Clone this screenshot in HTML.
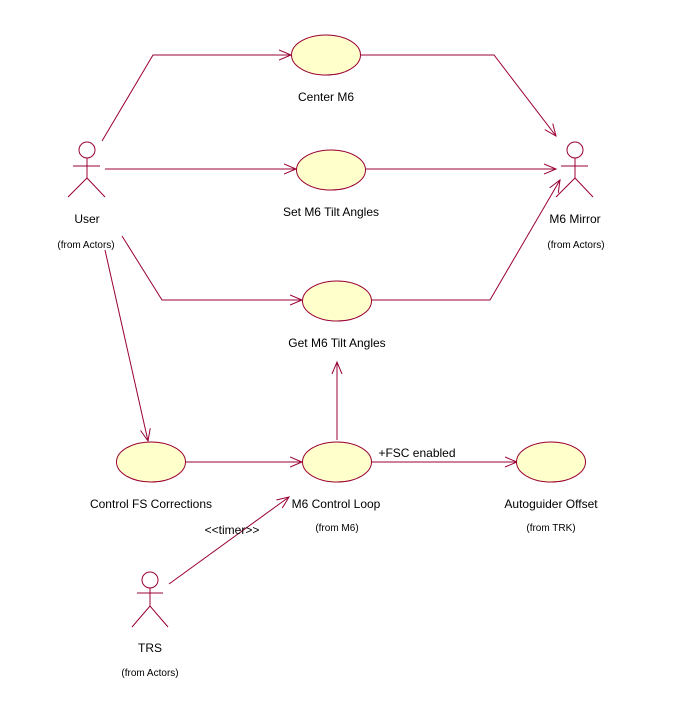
<!DOCTYPE html>
<html><head><style>
html,body{margin:0;padding:0;background:#fff;}
svg text{font-family:"Liberation Sans",sans-serif;fill:#000;}
</style></head><body>
<svg width="686" height="719" viewBox="0 0 686 719" xmlns="http://www.w3.org/2000/svg">
<defs>
<marker id="a" markerWidth="14" markerHeight="12" refX="12" refY="6" orient="auto" markerUnits="userSpaceOnUse">
<path d="M0,1 L12,6 L0,11" fill="none" stroke="#990033" stroke-width="1"/>
</marker>
</defs>
<g stroke="#990033" stroke-width="1" fill="none">
<polyline points="102,141 153,55 291,55" marker-end="url(#a)"/>
<polyline points="361,55 494,55 556,136" marker-end="url(#a)"/>
<line x1="105" y1="169" x2="296" y2="169" marker-end="url(#a)"/>
<line x1="366" y1="169" x2="556" y2="169" marker-end="url(#a)"/>
<polyline points="122,236 162,300 302,300" marker-end="url(#a)"/>
<polyline points="371,300 490,300 560,180" marker-end="url(#a)"/>
<line x1="105" y1="250" x2="148" y2="441" marker-end="url(#a)"/>
<line x1="186" y1="462" x2="302" y2="462" marker-end="url(#a)"/>
<line x1="337" y1="440" x2="337" y2="362" marker-end="url(#a)"/>
<line x1="371" y1="462" x2="517" y2="462" marker-end="url(#a)"/>
<line x1="169" y1="584" x2="289" y2="497" marker-end="url(#a)"/>
</g>
<g stroke="#990033" stroke-width="1" fill="#ffffcc">
<ellipse cx="326" cy="55" rx="34.5" ry="20"/>
<ellipse cx="331" cy="170" rx="34.5" ry="20"/>
<ellipse cx="337" cy="301" rx="34.5" ry="20"/>
<ellipse cx="151" cy="462" rx="34.5" ry="20"/>
<ellipse cx="337" cy="462" rx="34.5" ry="20"/>
<ellipse cx="551" cy="462" rx="34.5" ry="20"/>
</g>
<g stroke="#990033" stroke-width="1" fill="none">
<circle cx="87" cy="150" r="8"/>
<line x1="73" y1="166" x2="100" y2="166"/><line x1="87" y1="158" x2="87" y2="178"/>
<polyline points="68,197 87,178 105,197"/>
<circle cx="575" cy="150" r="8"/>
<line x1="561" y1="166" x2="588" y2="166"/><line x1="575" y1="158" x2="575" y2="178"/>
<polyline points="556,197 575,178 593,197"/>
<circle cx="150" cy="580" r="8"/>
<line x1="137" y1="593" x2="163" y2="593"/><line x1="150" y1="588" x2="150" y2="606"/>
<polyline points="132,627 150,606 168,627"/>
</g>
<g font-size="12" text-anchor="middle">
<text x="326" y="101">Center M6</text>
<text x="331" y="216">Set M6 Tilt Angles</text>
<text x="337" y="347">Get M6 Tilt Angles</text>
<text x="151" y="508">Control FS Corrections</text>
<text x="336" y="508">M6 Control Loop</text>
<text x="551" y="508">Autoguider Offset</text>
<text x="87" y="223">User</text>
<text x="575" y="223">M6 Mirror</text>
<text x="150" y="652">TRS</text>
<text x="417" y="457">+FSC enabled</text>
<text x="232" y="534">&lt;&lt;timer&gt;&gt;</text>
</g>
<g font-size="10" text-anchor="middle">
<text x="86" y="248">(from Actors)</text>
<text x="576" y="248">(from Actors)</text>
<text x="150" y="676">(from Actors)</text>
<text x="337" y="531">(from M6)</text>
<text x="551" y="531">(from TRK)</text>
</g>
</svg>
</body></html>
